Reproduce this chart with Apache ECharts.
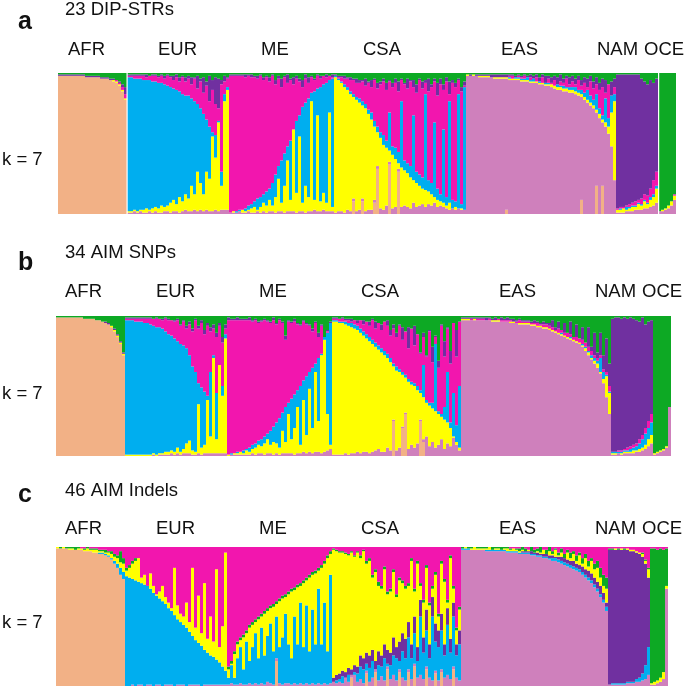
<!DOCTYPE html>
<html><head><meta charset="utf-8">
<script src="https://cdn.jsdelivr.net/npm/echarts@6/dist/echarts.min.js"></script>
<style>html,body{margin:0;background:#fff}#c{width:685px;height:689px;filter:blur(0.5px)}</style></head>
<body><div id="c"></div>
<script>
const regions = ['AFR','EUR','ME','CSA','EAS','NAM','OCE'];
const panelTitles = ['23 DIP-STRs','34 AIM SNPs','46 AIM Indels'];
const panelTags = ['a','b','c'];
const kLabel = 'k = 7';
const sizesA = [23,34,35,44,50,14,6];
const sizesB = [23,34,35,43,50,14,6];
const sizesC = [23,34,35,43,49,14,6];
const color = {orange:'#F2B186',orchid:'#CF80BC',yellow:'#FFFF00',blue:'#00AEEF',magenta:'#F216AE',purple:'#7030A0',green:'#0DA924'};

/* Each list gives, per region, the top edge (% of the bar) of one ancestry layer. */
/* PANEL A */
const aOrange = [[98,98,98,98,98,98,98,98,98,97,97,97,97,97,96,96,96,95,94,93,91,87,81],[],[],
 [0,0,0,0,0,0,9,0,0,9,0,0,0,8,32,0,0,0,35,0,0,30,0],
 [0,0,0,0,0,0,0,0,0,0,0,0,0,3,0,0,0,0,0,0,0,0,0,0,0,0,0,0,0,0,0,0,0,0,0,0,0,0,10,0,0,0,0,20,0,20,0,0,0,0],[],[]];
const aOrchid = [[],[1,1,2,1,2,1,1,2,1,2,1,1,2,2,1,2,2,1,2,3,2,2,3,2,3,2,3,2,2,3,2,3,3,3],
 [1,1,1,2,1,1,2,1,1,2,1,2,1,2,2,1,2,2,1,2,2,2,1,2,2,1,2,2,3,2,2,3,2,2,2],
 [1,2,2,1,3,2,11,2,3,11,2,3,3,10,34,4,3,6,37,4,5,32,5,6,5,4,8,5,6,7,5,7,6,8,5,6,5,4,3,4,3,4,3,3],
 [98,98,98,98,97,97,97,97,97,96,96,96,96,96,95,95,95,95,94,94,94,93,93,93,92,92,91,91,90,89,88,88,87,87,86,86,85,84,83,81,79,77,75,72,68,65,62,57,48,24],
 [1,1,1,2,2,2,3,3,3,4,4,5,6,8],[2,2,3,4,6,10]];
const aYellow = [[0,0,0,0,0,0,0,0,0,0,0,0,0,0,0,0,0,0,95,94,92,88,82],
 [2,2,3,2,3,3,4,3,4,5,4,6,5,6,8,10,7,12,9,14,11,20,14,30,22,14,30,25,55,40,65,20,80,88],
 [1,2,1,2,3,2,3,4,5,3,5,8,6,10,6,12,25,8,20,38,10,60,15,55,8,20,12,80,10,70,9,15,8,72,5],
 [97,95,93,90,88,85,83,81,79,77,75,71,67,62,58,54,49,47,45,42,39,36,33,31,29,26,24,22,20,18,17,16,14,12,10,9,8,6,8,4,5,3,4,3],
 [99,98,99,98,98,98,98,98,97,97,97,97,97,97,96,96,96,96,95,95,95,94,94,94,93,93,92,92,92,91,90,90,89,89,88,88,87,86,85,83,81,79,77,74,71,67,65,62,72,80],
 [3,3,4,3,4,5,5,7,6,9,7,10,12,18],[2,3,4,6,9,13]];
const aBlue = [[],
 [97,97,96,96,96,95,95,95,94,94,93,93,92,91,90,89,88,87,85,84,84,82,80,78,75,71,67,62,58,56,66,30,85,90],
 [1,2,2,3,3,4,6,7,9,11,12,14,16,18,22,28,34,38,43,48,52,60,66,70,76,79,82,86,87,89,90,92,93,95,96],
 [98,96,94,92,90,87,85,83,82,80,78,74,72,66,62,58,56,52,72,48,47,44,80,38,36,34,70,30,28,26,85,24,22,65,18,14,60,12,80,10,9,85,7,90],
 [0,0,0,0,0,0,0,0,0,0,0,0,0,0,97,96,97,97,96,96,97,95,96,94,94,93,93,93,92,91,92,91,91,90,90,90,90,88,88,86,88,84,81,85,75,70,82,68,84,85],
 [3,4,4,5,5,6,6,8,7,10,8,12,14,20],[]];
const aMagenta = [[0,0,0,0,0,0,0,0,0,0,0,0,0,0,0,0,0,0,0,95,93,90,85],
 [98,98,98,98,98,98,97,98,98,98,97,98,96,98,97,95,97,94,97,94,96,92,96,89,94,86,91,80,88,78,75,92,94,96],
 [98,98,98,98,98,97,98,97,97,96,98,95,97,94,98,92,96,90,97,93,95,92,96,94,90,96,93,97,95,98,96,98,97,98,97],
 [98,97,97,96,96,95,95,93,93,94,91,93,90,95,89,92,94,88,94,90,93,87,95,92,89,94,90,86,95,89,93,87,90,94,84,92,88,94,85,93,90,95,87,91],
 [0,0,0,0,0,0,0,0,0,0,0,0,0,0,98,98,97,98,97,98,96,97,95,97,94,97,93,96,93,95,92,94,93,96,92,94,92,95,91,93,90,94,89,92,88,90,86,92,84,90],
 [4,5,5,6,7,8,9,10,11,14,13,18,24,30],[0,0,0,0,0,14]];
const aPurple = [[99,99,99,99,99,99,99,99,99,98,98,98,98,98,97,97,97,96,96,95,94,92,90],
 [99,99,99,99,99,99,99,98,99,99,98,99,98,99,98,98,99,97,98,97,98,97,97,98,96,97,94,98,95,97,96,95,98,97],
 [99,99,99,99,99,99,99,99,98,98,99,97,98,97,99,95,98,96,98,99,96,97,98,96,95,99,97,98,96,99,98,98,99,98,99],
 [99,98,98,98,97,97,96,96,95,95,96,94,95,96,93,94,96,93,95,93,96,94,96,93,96,95,95,92,96,94,95,96,92,96,93,96,92,97,94,95,93,96,90,94],
 [99,99,99,99,99,99,99,99,99,99,99,99,99,99,99,99,98,99,98,99,98,99,98,99,97,99,98,98,97,98,97,99,96,98,97,98,96,98,95,97,96,98,94,97,93,96,95,92,94,96],
 [99,99,99,99,99,99,99,99,96,94,92,95,93,96],[]];

/* PANEL B */
const bOrange = [[99,99,99,99,99,99,99,99,99,98,98,98,98,97,97,96,95,94,92,89,85,80,72],[],[],
 [0,0,0,0,0,0,0,0,0,0,0,0,0,0,0,0,0,0,0,0,25,0,0,20,30,0,0,0,0,25,10],[],[],[]];
const bOrchid = [[],[0,0,0,0,0,0,0,0,0,1,0,1,1,1,1,2,1,2,1,2,2,2,1,1,2,1,2,2,2,2,2,2,2,2],
 [0,1,1,1,1,1,1,1,2,1,2,2,1,2,2,1,2,1,2,2,2,2,1,2,2,3,2,3,2,3,3,2,3,4,5],
 [1,1,1,1,2,1,2,2,3,2,3,3,2,3,4,5,3,3,6,4,26,4,6,21,31,5,8,6,9,26,12,14,7,10,6,8,12,5,9,7,13,8,4],
 [97,97,97,97,97,97,97,97,97,97,96,96,96,96,96,96,95,95,95,94,94,94,94,93,93,92,92,91,91,90,89,88,87,86,85,84,83,82,81,80,78,75,72,69,66,63,59,52,42,30],
 [1,1,2,1,2,2,2,2,3,3,4,5,7,9],[1,2,3,4,6,35]];
const bYellow = [[0,0,0,0,0,0,0,0,0,0,0,0,0,0,0,96,95,94,93,90,86,81,73],
 [1,1,1,1,1,1,1,1,1,2,1,2,2,3,3,4,3,6,3,5,9,11,4,3,37,6,8,40,14,70,12,65,43,84],
 [1,1,2,2,3,2,4,3,5,6,8,7,9,12,8,10,9,6,18,10,30,12,20,35,8,40,15,48,20,60,25,72,83,30,8],
 [96,96,95,95,94,93,92,91,90,88,86,84,82,80,78,76,74,72,70,67,64,61,60,58,56,53,51,50,47,45,42,38,36,34,32,30,28,26,24,20,14,10,6],
 [98,98,98,97,98,97,97,97,97,97,97,97,97,96,96,96,96,96,95,95,95,95,95,94,94,93,93,92,92,91,90,89,88,87,86,85,84,83,82,81,79,77,74,70,68,66,60,55,57,45],
 [2,2,2,2,3,3,3,4,4,5,6,8,12,15],[2,3,4,5,7,35]];
const bBlue = [[],
 [97,97,97,96,96,96,95,95,94,93,92,92,91,89,87,86,84,82,80,79,77,72,64,60,52,49,46,43,60,72,45,65,50,87],
 [1,2,2,3,3,4,5,6,8,9,11,12,14,16,18,21,24,27,31,35,38,41,44,47,50,54,57,60,63,66,70,73,85,88,95],
 [97,97,96,96,96,95,95,94,93,91,89,87,85,83,81,79,77,75,73,70,66,64,62,60,58,55,53,52,50,47,65,40,38,38,80,32,30,35,60,24,45,22,50],
 [0,0,0,0,0,0,0,0,0,0,0,0,0,0,0,0,0,0,0,0,0,0,0,0,0,0,0,0,0,0,90,89,88,88,86,85,85,83,82,81,80,78,75,72,70,68,70,60,58,46],
 [3,3,3,3,4,4,5,6,7,9,12,16,20,24],[]];
const bMagenta = [[],
 [98,98,98,98,98,98,98,98,98,98,98,98,97,98,97,97,96,97,93,96,91,94,89,97,91,95,87,93,89,91,85,93,81,91],
 [97,97,97,97,97,97,97,97,96,97,95,96,97,96,95,97,94,97,95,83,96,95,96,94,93,96,94,93,89,95,85,93,81,89,95],
 [98,98,98,98,97,97,96,97,95,97,94,96,93,97,91,95,90,96,93,86,91,85,93,83,89,77,91,79,87,73,85,71,89,67,85,63,93,71,91,66,95,71,96],
 [98,98,98,98,98,98,98,98,97,98,97,97,98,97,97,97,97,96,96,97,96,96,96,95,95,95,94,94,94,93,92,90,91,90,88,88,87,85,85,84,83,81,78,75,72,70,72,62,60,50],
 [3,3,4,4,5,6,7,8,9,12,15,20,25,30],[]];
const bPurple = [[0,0,0,0,0,0,0,0,0,0,0,0,0,0,0,96,96,95,93,91,87,82,74],
 [99,99,99,99,99,99,99,99,99,98,99,98,98,99,98,97,97,98,94,97,93,96,91,98,93,97,90,95,92,94,88,95,85,94],
 [99,98,98,99,98,98,98,99,97,98,96,97,98,97,96,99,95,98,96,86,97,96,98,95,94,97,95,94,91,96,88,94,84,90,96],
 [99,99,98,99,98,98,98,97,97,97,97,96,96,98,96,94,94,92,97,90,94,88,94,92,82,92,78,93,85,74,88,72,90,78,86,68,94,82,92,75,95,90,96],
 [99,99,99,99,99,99,99,99,99,99,98,99,98,99,98,99,98,98,97,98,97,97,97,96,97,96,95,96,95,95,97,92,96,90,95,88,96,84,94,82,92,80,92,78,88,74,88,72,84,66],
 [98,99,99,98,99,98,99,98,97,96,99,94,96,97],[]];

/* PANEL C */
const cOrange = [[99,99,99,99,98,98,98,98,98,97,97,97,96,96,95,95,94,93,91,88,85,80,77],[],
 [0,0,0,0,0,0,0,0,0,0,0,0,0,0,0,0,18,0,0,0,0,0,0,0,0,0,0,0,0,0,0,0,0,0,0],
 [0,0,0,0,0,0,6,0,0,0,0,9,0,0,10,0,0,0,12,0,0,0,10,0,0,10,0,14,0,0,0,12,0,0,9,0,10,0,0,0,12],
 [],[],[]];
const cOrchid = [[],[0,0,1,0,1,1,0,1,1,0,1,1,0,1,1,1,0,1,1,1,0,1,1,1,1,0,1,1,1,1,1,1,1,1],
 [1,2,1,1,2,1,1,2,1,2,1,2,1,3,2,1,20,2,1,2,2,1,2,1,2,1,2,1,2,1,2,1,2,1,2],
 [3,2,3,2,6,3,8,8,3,5,2,11,3,6,12,4,7,4,14,5,8,4,12,6,4,12,5,16,6,8,5,14,6,4,11,4,12,6,8,5,14,6,4],
 [98,98,98,98,98,98,98,98,97,97,97,97,97,97,97,96,96,96,96,95,95,95,95,94,94,93,93,92,92,91,90,90,89,88,87,86,85,84,83,82,80,78,76,74,71,68,64,60,54],
 [1,1,1,1,1,1,2,2,2,3,3,4,5,8],[1,1,2,3,5,70]];
const cBlue = [[0,0,0,0,0,0,0,0,0,0,0,0,0,96,96,96,95,94,92,90,88,85,82],
 [79,78,77,76,75,74,73,72,70,67,65,63,61,59,56,54,51,48,46,44,42,39,36,33,31,29,26,24,22,21,19,17,14,11],
 [6,15,6,20,28,12,32,18,28,38,20,42,22,36,45,25,50,28,35,52,30,20,50,30,60,28,58,25,55,30,70,30,60,25,80],
 [3,4,5,7,6,8,8,10,9,14,12,16,13,18,11,15,14,20,16,15,22,20,18,25,20,35,20,38,18,50,24,40,20,50,32,28,40,22,44,24,50,22,30],
 [99,99,99,98,98,98,98,98,98,98,98,98,98,98,98,97,97,97,97,96,96,96,96,95,95,94,94,93,93,92,92,92,91,90,89,88,87,86,85,84,82,80,78,76,73,70,66,62,57],
 [1,2,2,2,2,2,3,3,3,5,6,9,15,28],[]];
const cPurple = [[],[],[],
 [6,8,9,11,10,13,12,15,14,22,20,24,22,26,18,25,22,30,26,24,35,28,32,38,34,46,30,50,28,62,35,55,30,64,45,40,52,30,56,34,60,30,40],
 [0,0,0,0,0,0,0,0,0,0,0,0,0,0,0,0,0,0,0,0,97,97,97,97,96,96,95,95,95,94,94,93,93,93,92,91,90,90,88,87,86,84,83,81,78,75,72,67,60],
 [98,98,98,98,98,98,98,97,97,96,95,93,88,78],[]];
const cYellow = [[100,99,100,99,99,99,98,99,99,98,99,98,98,98,97,97,96,96,95,93,92,89,88],
 [83,85,88,90,92,78,80,70,81,72,66,68,72,64,60,56,85,58,52,50,60,46,85,42,65,38,74,34,50,32,84,28,43,96],
 [12,16,23,30,33,35,38,42,44,46,48,50,52,54,56,57,59,61,63,64,66,68,69,71,72,74,76,78,80,81,83,85,88,92,95],
 [98,97,96,96,95,94,96,93,96,92,97,88,90,78,82,72,70,84,66,68,82,64,76,74,70,72,90,68,88,72,60,85,58,70,80,50,88,75,60,92,70,40,55],
 [99,100,99,99,100,99,99,99,99,100,98,99,99,98,99,99,98,99,98,97,98,97,98,97,96,97,96,98,95,97,95,98,94,96,92,96,92,95,90,94,88,92,86,90,84,85,78,72,70],
 [98,98,99,98,99,98,99,98,98,97,96,95,90,84],[2,3,4,6,10,72]];
const cGreen = [[100,100,100,100,100,100,100,100,99,99,100,99,99,99,98,98,98,97,97,95,94,97,92],
 [85,87,90,92,0,0,0,0,0,0,0,0,0,0,0,0,0,0,0,0,0,0,0,0,0,0,0,0,0,0,0,0,0,0],
 [14,18,25,32,35,37,40,44,46,48,50,52,54,56,58,59,61,63,65,66,68,70,71,73,74,76,78,80,82,83,85,87,90,94,97],
 [99,98,97,97,96,95,97,94,97,94,98,90,92,80,84,75,72,86,68,70,84,66,78,76,72,74,92,70,90,74,62,87,60,72,82,52,90,77,62,94,72,42,57],
 [100,100,100,100,100,100,100,100,100,100,100,100,100,100,100,100,99,99,99,99,100,99,98,100,98,99,100,97,98,100,97,99,96,99,95,98,96,97,94,96,92,95,90,92,88,90,85,80,78],
 [99,99,99,99,99,99,99,98,98,97,96,96,91,85],[99,99,98,99,98,99]];

const panelA = {sizes:sizesA, rect:[58,73,3,141], layers:[['orange',aOrange],['orchid',aOrchid],['yellow',aYellow],['blue',aBlue],['magenta',aMagenta],['purple',aPurple]], rest:'green'};
const panelB = {sizes:sizesB, rect:[56,316,3,140], layers:[['orange',bOrange],['orchid',bOrchid],['yellow',bYellow],['blue',bBlue],['magenta',bMagenta],['purple',bPurple]], rest:'green'};
const panelC = {sizes:sizesC, rect:[56,547,3,139], layers:[['orange',cOrange],['orchid',cOrchid],['blue',cBlue],['purple',cPurple],['yellow',cYellow],['green',cGreen]], rest:'magenta'};
const panels = [panelA,panelB,panelC];

function flat(nested,sizes){
  const out=[];
  sizes.forEach((n,g)=>{const l=nested[g]||[];for(let i=0;i<n;i++){out.push(i<l.length?l[i]:(l.length&&l.length>=n-1?l[l.length-1]:0));}});
  return out;
}
const grid=[],xAxis=[],yAxis=[],series=[];
panels.forEach((p,pi)=>{
  const n=p.sizes.reduce((a,b)=>a+b,0);
  grid.push({left:p.rect[0],top:p.rect[1],width:n*p.rect[2],height:p.rect[3],containLabel:false});
  xAxis.push({type:'category',gridIndex:pi,show:false,data:Array.from({length:n},(_,i)=>i)});
  yAxis.push({type:'value',gridIndex:pi,show:false,min:0,max:100});
  let prev=new Array(n).fill(0);
  p.layers.forEach(([name,nested])=>{
    const tops=flat(nested,p.sizes);
    const cur=tops.map((v,i)=>Math.max(v,prev[i]));
    const thick=cur.map((v,i)=>v-prev[i]);
    series.push({type:'bar',name:panelTags[pi]+'-'+name,xAxisIndex:pi,yAxisIndex:pi,stack:'s'+pi,data:thick,barWidth:'100%',itemStyle:{color:color[name]},silent:true,animation:false});
    prev=cur;
  });
  series.push({type:'bar',name:panelTags[pi]+'-'+p.rest,xAxisIndex:pi,yAxisIndex:pi,stack:'s'+pi,data:prev.map(v=>100-v),barWidth:'100%',itemStyle:{color:color[p.rest]},silent:true,animation:false});
});
const font='"Liberation Sans",Arial,sans-serif';
const txt=(t,x,y,size,weight)=>({type:'text',left:x,top:y-size/2+1,style:{text:t,font:(weight||'normal')+' '+size+'px '+font,fill:'#111'}});
const labelX=[[68,158,261,363,501,597,644],[65,156,259,361,499,595,642],[65,156,259,361,499,595,642]];
const rowY=[[9,21,49,159],[252,262,291,393],[490,494,528,622]];
const graphic=[];
panels.forEach((p,i)=>{
  graphic.push(txt(panelTitles[i],65,rowY[i][0],18.5));
  graphic.push(txt(panelTags[i],18,rowY[i][1],25,'bold'));
  regions.forEach((r,j)=>graphic.push(txt(r,labelX[i][j],rowY[i][2],18.5)));
  graphic.push(txt(kLabel,2,rowY[i][3],18.5));
});
/* thin white gaps between regions in the top panel */
[126.5,658].forEach(x=>graphic.push({type:'rect',z:100,shape:{x:x,y:73,width:1.2,height:141},style:{fill:'#fff'}}));
const chart=echarts.init(document.getElementById('c'),null,{renderer:'canvas'});
chart.setOption({animation:false,backgroundColor:'#fff',grid,xAxis,yAxis,series,graphic});
</script></body></html>
